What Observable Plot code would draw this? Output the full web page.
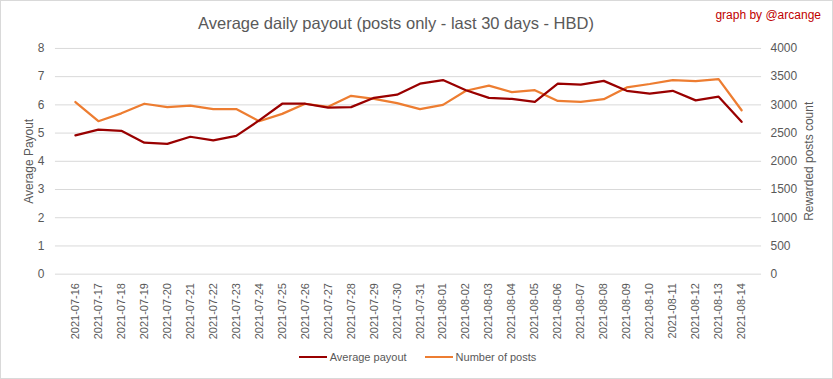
<!DOCTYPE html>
<html>
<head>
<meta charset="utf-8">
<script src="https://cdn.jsdelivr.net/npm/d3@7"></script>
<script src="https://cdn.jsdelivr.net/npm/@observablehq/plot@0.6"></script>
<style>
  body { margin: 0; background: #fff; }
  #wrap { position: relative; width: 833px; height: 379px; box-sizing: border-box; border: 1px solid #d9d9d9; overflow: hidden; font-family: "Liberation Sans", Arial, sans-serif; }
  #chart { position: absolute; left: -1px; top: -1px; }
  #title { position: absolute; left: -1px; width: 792px; top: 13px; text-align: center; font-size: 16.5px; color: #595959; }
  #credit { position: absolute; right: 11px; top: 7px; font-size: 12px; color: #c00000; }
  #legend { position: absolute; left: 0; width: 833px; top: 350px; display: flex; justify-content: center; font-size: 11px; color: #595959; }
  .item { display: flex; align-items: center; margin: 0 9px; }
  .sw { display: inline-block; width: 28px; height: 2px; margin-right: 3px; }
</style>
</head>
<body>
<div id="wrap">
  <div id="chart"></div>
  <div id="title">Average daily payout (posts only - last 30 days - HBD)</div>
  <div id="credit">graph by @arcange</div>
  <div id="legend"></div>
</div>
<script>
const dates = ["2021-07-16","2021-07-17","2021-07-18","2021-07-19","2021-07-20","2021-07-21","2021-07-22","2021-07-23","2021-07-24","2021-07-25","2021-07-26","2021-07-27","2021-07-28","2021-07-29","2021-07-30","2021-07-31","2021-08-01","2021-08-02","2021-08-03","2021-08-04","2021-08-05","2021-08-06","2021-08-07","2021-08-08","2021-08-09","2021-08-10","2021-08-11","2021-08-12","2021-08-13","2021-08-14"];
const avgPayout = [4.92,5.12,5.08,4.66,4.62,4.87,4.74,4.90,5.45,6.04,6.04,5.90,5.92,6.25,6.36,6.75,6.88,6.52,6.25,6.21,6.11,6.75,6.72,6.85,6.50,6.40,6.50,6.16,6.29,5.40];
const postCount = [3050,2710,2850,3020,2960,2985,2925,2925,2710,2840,3020,2965,3160,3105,3030,2925,3000,3250,3340,3225,3260,3070,3055,3100,3310,3370,3440,3420,3455,2905];
const leftTicks = [0,1,2,3,4,5,6,7,8];
const rightTicks = [0,500,1000,1500,2000,2500,3000,3500,4000];
const seriesNames = ["Average payout","Number of posts"];
const colors = ["#990000","#ed7d31"];

const payoutData = dates.map((d,i)=>({date:d, value:avgPayout[i]}));
const postData = dates.map((d,i)=>({date:d, value:postCount[i]}));
const ratio = 500; // right axis units per left axis unit

const chart = Plot.plot({
  width: 833, height: 379,
  marginTop: 48, marginBottom: 105, marginLeft: 55, marginRight: 71,
  style: { fontFamily: "Liberation Sans, Arial, sans-serif", fontSize: "11px", color: "#595959", background: "transparent" },
  x: { type: "point", domain: dates, padding: 0.5 },
  y: { domain: [0, 8] },
  marks: [
    Plot.gridY(leftTicks, { stroke: "#d9d9d9", strokeOpacity: 1 }),
    Plot.axisY(leftTicks, { anchor: "left", tickSize: 0, tickPadding: 11, fontSize: 12, label: "Average Payout", labelAnchor: "center", labelArrow: "none", labelOffset: 31 }),
    Plot.axisY(rightTicks.map(t => t / ratio), { anchor: "right", tickSize: 0, tickPadding: 9, fontSize: 12, tickFormat: d => String(Math.round(d * ratio)), label: "Rewarded posts count", labelAnchor: "center", labelArrow: "none", labelOffset: 51 }),
    Plot.axisX({ tickRotate: -90, tickSize: 0, tickPadding: 9, fontSize: 11, label: null }),
    Plot.lineY(postData, { x: "date", y: d => d.value / ratio, stroke: colors[1], strokeWidth: 2.25 }),
    Plot.lineY(payoutData, { x: "date", y: "value", stroke: colors[0], strokeWidth: 2.25 })
  ]
});
document.getElementById("chart").appendChild(chart);

const legend = document.getElementById("legend");
seriesNames.forEach((n,i)=>{
  const it = document.createElement("div");
  it.className = "item";
  it.innerHTML = `<span class="sw" style="background:${colors[i]}"></span><span>${n}</span>`;
  legend.appendChild(it);
});
</script>
</body>
</html>
